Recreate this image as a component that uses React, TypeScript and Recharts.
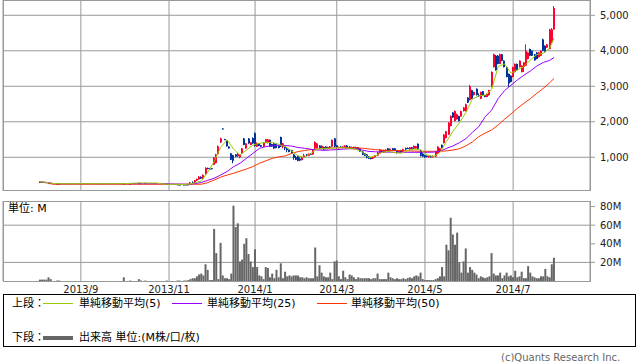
import React from 'react';
import { ComposedChart, Bar, Line, XAxis, YAxis, CartesianGrid } from 'recharts';

const _ = null;

// daily candles, Aug 2013 - Jul 2014 (null = no trade that day)
const open: (number | null)[] = [
  310, 300, 305, 300, 250, 280, _, _, 260, 255,
  _, _, _, _, _, _, _, _, _, _,
  _, _, _, _, _, _, _, _, _, _,
  _, _, _, _, _, _, _, _, _, 258,
  _, _, 255, _, _, _, 280, 276, _, 278,
  _, _, _, _, _, _, _, _, _, 250,
  _, _, _, _, 238, 234, _, 236, 235, 236,
  240, 290, 280, 350, 380, 450, 400, 520, 700, 680,
  690, 790, 840, 1090, 1420, 1810, 1510, 1480, 1300, 1110,
  1060, 1080, 1030, 1000, 1110, 1530, 1250, 1530, 1350, 1540,
  1680, 1300, 1390, 1340, 1300, 1420, 1400, 1490, 1370, 1390,
  1370, 1330, 1570, 1300, 1300, 1250, 1210, 1200, 1080, 1000,
  1040, 960, 920, 1010, 1080, 1040, 1100, 1080, 1250, 1260,
  1330, 1230, 1290, 1300, 1230, 1300, 1300, 1530, 1330, 1260,
  1300, 1260, 1270, 1330, 1300, 1250, 1290, 1240, 1280, 1250,
  1160, 1110, 1080, 1020, 990, 960, 1000, 1050, 1110, 1200,
  1140, 1210, 1250, 1170, 1250, 1250, 1200, 1130, 1200, 1160,
  1260, 1260, 1220, 1280, 1240, 1250, 1380, 1200, 1100, 1060,
  1040, 1000, 1030, 1000, 1020, 1110, 1150, 1350, 1400, 1540,
  1640, 1880, 2260, 2020, 2070, 2160, 2150, 2300, 2300, 2680,
  2610, 2890, 2750, 2930, 2750, 2650, 2860, 2750, 2700, 2750,
  2980, 3540, 3860, 3860, 3630, 3900, 3720, 3540, 3350, 3300,
  3260, 3400, 3630, 3540, 3400, 3540, 3580, 3770, 4050, 4000,
  3900, 3950, 3820, 3860, 4320, 4140, 4090, 4050, 4230, 4600,
];

const high: (number | null)[] = [
  315, 310, 310, 300, 296, 285, _, _, 262, 258,
  _, _, _, _, _, _, _, _, _, _,
  _, _, _, _, _, _, _, _, _, _,
  _, _, _, _, _, _, _, _, _, 260,
  _, _, 258, _, _, _, 282, 278, _, 280,
  _, _, _, _, _, _, _, _, _, 252,
  _, _, _, _, 240, 236, _, 238, 238, 240,
  300, 320, 360, 400, 470, 460, 520, 720, 710, 700,
  700, 1000, 1100, 1330, 1550, 1820, 1520, 1490, 1310, 1120,
  1070, 1090, 1120, 1090, 1260, 1540, 1400, 1540, 1430, 1560,
  1700, 1420, 1400, 1350, 1430, 1520, 1510, 1500, 1380, 1400,
  1380, 1340, 1580, 1400, 1310, 1260, 1220, 1210, 1090, 1040,
  1050, 1000, 1010, 1100, 1090, 1110, 1110, 1210, 1450, 1400,
  1340, 1340, 1300, 1310, 1300, 1310, 1500, 1540, 1350, 1300,
  1310, 1310, 1340, 1340, 1310, 1300, 1300, 1300, 1290, 1260,
  1170, 1120, 1090, 1030, 1000, 1010, 1060, 1150, 1230, 1210,
  1210, 1220, 1260, 1250, 1260, 1260, 1210, 1190, 1210, 1240,
  1270, 1280, 1290, 1290, 1330, 1320, 1390, 1210, 1110, 1070,
  1050, 1040, 1040, 1050, 1170, 1310, 1260, 1360, 1650, 1740,
  1990, 2180, 2270, 2320, 2230, 2170, 2310, 2420, 2510, 2690,
  3040, 2900, 2850, 2940, 2800, 2850, 2870, 2760, 2790, 2900,
  3420, 3920, 3880, 3880, 3920, 3910, 3730, 3560, 3360, 3310,
  3550, 3640, 3640, 3730, 3590, 3680, 4180, 3960, 4060, 4010,
  3910, 3960, 3960, 4010, 4340, 4150, 4190, 4620, 4640, 5260,
];

const low: (number | null)[] = [
  295, 300, 300, 290, 245, 270, _, _, 250, 250,
  _, _, _, _, _, _, _, _, _, _,
  _, _, _, _, _, _, _, _, _, _,
  _, _, _, _, _, _, _, _, _, 248,
  _, _, 250, _, _, _, 270, 270, _, 272,
  _, _, _, _, _, _, _, _, _, 246,
  _, _, _, _, 228, 228, _, 228, 230, 230,
  240, 270, 280, 330, 370, 390, 390, 510, 660, 640,
  670, 780, 830, 1080, 1400, 1790, 1490, 1300, 1240, 920,
  830, 1000, 1000, 970, 1100, 1340, 1240, 1380, 1340, 1380,
  1300, 1290, 1310, 1290, 1290, 1410, 1390, 1290, 1290, 1240,
  1250, 1250, 1290, 1250, 1200, 1140, 1140, 1100, 930, 920,
  890, 890, 910, 1000, 1030, 1030, 1070, 1070, 1240, 1250,
  1240, 1220, 1210, 1220, 1220, 1260, 1290, 1290, 1250, 1250,
  1260, 1250, 1260, 1250, 1250, 1240, 1240, 1230, 1220, 1150,
  1060, 1030, 970, 950, 940, 950, 990, 1040, 1100, 1130,
  1130, 1160, 1160, 1160, 1190, 1180, 1100, 1120, 1140, 1150,
  1210, 1230, 1210, 1230, 1230, 1240, 1230, 1020, 1010, 990,
  1000, 990, 990, 990, 1010, 1100, 1140, 1250, 1390, 1530,
  1630, 1870, 2110, 2010, 2060, 2010, 2140, 2290, 2290, 2530,
  2600, 2640, 2740, 2740, 2700, 2640, 2740, 2690, 2690, 2740,
  2970, 3530, 3440, 3620, 3620, 3710, 3530, 3250, 2980, 3110,
  3250, 3390, 3440, 3530, 3390, 3400, 3570, 3760, 3850, 3850,
  3720, 3760, 3810, 3850, 3990, 3950, 4080, 4040, 4220, 4590,
];

const close: (number | null)[] = [
  300, 305, 300, 295, 290, 275, _, _, 252, 252,
  _, _, _, _, _, _, _, _, _, _,
  _, _, _, _, _, _, _, _, _, _,
  _, _, _, _, _, _, _, _, _, 250,
  _, _, 252, _, _, _, 272, 272, _, 274,
  _, _, _, _, _, _, _, _, _, 248,
  _, _, _, _, 230, 230, _, 232, 232, 234,
  290, 280, 350, 390, 450, 400, 500, 700, 670, 650,
  680, 990, 1080, 1310, 1530, 1800, 1500, 1310, 1250, 930,
  900, 1020, 1090, 1080, 1250, 1350, 1390, 1390, 1420, 1390,
  1320, 1400, 1320, 1300, 1420, 1510, 1500, 1300, 1300, 1250,
  1260, 1260, 1300, 1390, 1250, 1200, 1150, 1110, 980, 930,
  900, 910, 1000, 1050, 1040, 1100, 1080, 1200, 1430, 1390,
  1250, 1320, 1220, 1230, 1290, 1270, 1490, 1300, 1260, 1290,
  1270, 1300, 1330, 1260, 1260, 1290, 1250, 1290, 1230, 1160,
  1070, 1040, 990, 960, 950, 1000, 1050, 1130, 1220, 1150,
  1200, 1170, 1170, 1240, 1200, 1190, 1130, 1180, 1150, 1230,
  1220, 1240, 1280, 1240, 1320, 1310, 1240, 1040, 1020, 1000,
  1010, 1030, 1000, 1040, 1160, 1300, 1250, 1260, 1640, 1730,
  1970, 2160, 2120, 2300, 2210, 2020, 2300, 2400, 2490, 2540,
  3000, 2650, 2840, 2750, 2720, 2840, 2750, 2700, 2780, 2890,
  3400, 3900, 3450, 3630, 3900, 3720, 3540, 3260, 3080, 3120,
  3540, 3630, 3450, 3720, 3580, 3670, 4000, 3950, 3860, 3860,
  3730, 3770, 3950, 4000, 4000, 3960, 4180, 4600, 4600, 5200,
];

// volume, millions of shares
const volume: number[] = [
  1.5, 1.5, 1.5, 1.5, 4, 2, 0, 0, 0.5, 0.5,
  0, 0, 0, 0, 0, 0, 0, 0, 0, 0,
  0, 0, 0, 0, 0, 0, 0, 0, 0, 0,
  0, 0, 0, 0, 0, 0, 0, 0, 0, 4,
  0, 0, 0.5, 0, 0, 0, 2, 0.5, 0, 0.5,
  0, 0, 0, 0, 0, 0, 0, 0, 0, 0.5,
  0, 0, 0, 0, 0.5, 0.5, 0, 0.5, 0.5, 1,
  2, 3, 3, 5, 7, 8, 6, 18, 12, 1,
  1, 56, 30, 2, 41, 6, 3, 3, 2, 8,
  81, 58, 62, 21, 23, 40, 46, 29, 21, 15,
  34, 15, 6, 5, 2, 15, 14, 4, 8, 3,
  12, 4, 19, 3, 10, 5, 6, 5, 6, 6,
  6, 4, 4, 3, 4, 3, 3, 3, 36, 5,
  17, 9, 5, 4, 4, 9, 2, 21, 22, 5,
  2, 11, 4, 2, 7, 6, 4, 2, 4, 3,
  3, 3, 3, 3, 2, 3, 3, 8, 2, 2,
  2, 2, 9, 4, 3, 2, 3, 2, 2, 3,
  2, 3, 4, 3, 5, 6, 5, 9, 2, 1,
  1, 1, 1, 1, 2, 3, 5, 15, 5, 39,
  33, 68, 50, 39, 52, 20, 9, 21, 35, 9,
  15, 12, 9, 7, 3, 5, 4, 3, 4, 5,
  30, 8, 6, 6, 9, 3, 6, 9, 5, 6,
  4, 11, 4, 5, 10, 3, 3, 16, 9, 5,
  4, 3, 3, 5, 5, 13, 5, 4, 18, 25,
];

// moving averages read every 3rd trading day (last value = last day)
const MA_STEP = 3;
const ma5 = [
  313, 290, 262, 256, 256, 256, 256, 256, 256, 256,
  256, 256, 256, 256, 265, 276, 276, 276, 276, 250,
  238, 238, 232, 240, 280, 330, 580, 880, 1280, 1490,
  1230, 1060, 1205, 1346, 1393, 1420, 1420, 1365, 1300, 1180,
  1040, 1000, 1110, 1235, 1250, 1250, 1270, 1270, 1250, 1225,
  1140, 990, 1045, 1140, 1162, 1133, 1114, 1190, 1228, 1209,
  1067, 1019, 1133, 1447, 1733, 1971, 2257, 2637, 2730, 2750,
  2900, 3555, 3630, 3370, 3463, 3555, 3740, 3890, 3930, 4075,
  4350,
];
const ma25 = [
  310, 292, 262, 256, 256, 256, 256, 256, 256, 256,
  256, 256, 256, 256, 256, 256, 256, 256, 256, 256,
  250, 245, 242, 242, 258, 290, 350, 410, 500, 600,
  735, 830, 970, 1110, 1250, 1300, 1330, 1340, 1330, 1315,
  1275, 1255, 1225, 1206, 1195, 1205, 1215, 1230, 1240, 1235,
  1200, 1165, 1155, 1148, 1145, 1140, 1140, 1140, 1140, 1140,
  1140, 1145, 1170, 1250, 1320, 1410, 1520, 1700, 1860, 2140,
  2330, 2650, 2880, 3030, 3180, 3310, 3430, 3570, 3670, 3730,
  3810,
];
const ma50 = [
  300, 285, 240, 240, 240, 240, 240, 240, 240, 240,
  240, 240, 240, 240, 240, 240, 240, 240, 240, 240,
  240, 240, 240, 240, 240, 240, 285, 360, 440, 500,
  550, 610, 670, 740, 830, 900, 970, 1010, 1040, 1110,
  1160, 1190, 1215, 1235, 1250, 1260, 1265, 1270, 1270, 1265,
  1255, 1235, 1215, 1200, 1195, 1190, 1185, 1180, 1175, 1170,
  1168, 1168, 1170, 1180, 1205, 1240, 1320, 1430, 1580, 1680,
  1770, 1910, 2070, 2220, 2380, 2520, 2650, 2800, 2940, 3100,
  3220,
];

const monthStarts = [19, 60, 100, 138, 179, 220];
const monthLabels = ['2013/9', '2013/11', '2014/1', '2014/3', '2014/5', '2014/7'];
const priceTicks = [1000, 2000, 3000, 4000, 5000];
const volumeTicks = [20, 40, 60, 80];

const RED = '#ff0033';
const BLUE = '#003399';
const GRID = '#999999';
const FONT = '"DejaVu Sans", "Noto Sans CJK JP", sans-serif';

const rows: any[] = close.map((c, i) => ({
  day: i, o: open[i], h: high[i], l: low[i], c, v: volume[i] || null,
}));
const lastDay = rows.length - 1;
ma5.forEach((v, k) => { rows[Math.min(k * MA_STEP, lastDay)].ma5 = v; });
ma25.forEach((v, k) => { rows[Math.min(k * MA_STEP, lastDay)].ma25 = v; });
ma50.forEach((v, k) => { rows[Math.min(k * MA_STEP, lastDay)].ma50 = v; });

const withCommas = (v: number) => String(v).replace(/\B(?=(\d{3})+(?!\d))/g, ',');

function Candle(props: any) {
  const { x, y, width, height, payload } = props;
  if (!payload || payload.o == null) return null;
  const { o, h, l, c } = payload;
  const top = height >= 0 ? y : y + height;
  const span = Math.abs(height);
  const k = h > l ? span / (h - l) : 0;
  const yo = top + (h - o) * k;
  const yc = top + (h - c) * k;
  const color = c >= o ? RED : BLUE;
  const left = Math.round(x + width / 2 - 1);
  const bodyTop = Math.min(yo, yc);
  const bodyH = Math.max(Math.abs(yo - yc), 1);
  return (
    <g>
      <line x1={left + 0.5} x2={left + 0.5} y1={top} y2={top + Math.max(span, 1)} stroke={color} strokeWidth={1} />
      <rect x={left} y={bodyTop} width={2} height={bodyH} fill={color} />
    </g>
  );
}

const xAxisProps = {
  type: 'number' as const,
  dataKey: 'day',
  domain: [0, lastDay],
  padding: { left: 37, right: 36 },
  ticks: monthStarts,
  interval: 0 as const,
};

const tickStyle = { fontSize: 10, fill: '#222', fontFamily: FONT };

function LegendLine({ left, top, color, h = 1 }: { left: number; top: number; color: string; h?: number }) {
  return <div style={{ position: 'absolute', left, top, width: 30, height: h, background: color }} />;
}

function Label({ left, top, children, size = 11, color = '#000' }: any) {
  return (
    <div style={{ position: 'absolute', left, top, fontSize: size, lineHeight: '14px', color, whiteSpace: 'nowrap' }}>
      {children}
    </div>
  );
}

export default function App() {
  return (
    <div style={{ position: 'absolute', left: 0, top: 0, width: 638, height: 362, background: '#fff', fontFamily: FONT, overflow: 'hidden' }}>
      <div style={{ position: 'absolute', left: 0, top: 0 }}>
        <ComposedChart width={638} height={191} data={rows} margin={{ top: 0, right: 0, bottom: 0, left: 3 }}>
          <CartesianGrid stroke={GRID} />
          <XAxis {...xAxisProps} hide />
          <YAxis
            orientation="right"
            width={48}
            domain={[50, 5430]}
            ticks={priceTicks}
            tickFormatter={withCommas}
            axisLine={false}
            tickLine={{ stroke: GRID }}
            tickSize={5}
            tickMargin={5}
            tick={tickStyle}
          />
          <Bar dataKey={(d: any) => (d.o == null ? null : [d.l, d.h])} barSize={2} shape={<Candle />} isAnimationActive={false} />
          <Line dataKey="ma50" stroke="#ff3300" strokeWidth={1} dot={false} connectNulls isAnimationActive={false} />
          <Line dataKey="ma25" stroke="#9900ff" strokeWidth={1} dot={false} connectNulls isAnimationActive={false} />
          <Line dataKey="ma5" stroke="#99cc00" strokeWidth={1} dot={false} connectNulls isAnimationActive={false} />
        </ComposedChart>
      </div>
      <div style={{ position: 'absolute', left: 3, top: 0, width: 588, height: 191, border: `1px solid ${GRID}`, boxSizing: 'border-box' }} />

      <div style={{ position: 'absolute', left: 0, top: 201 }}>
        <ComposedChart width={638} height={100} data={rows} margin={{ top: 0, right: 0, bottom: 0, left: 3 }}>
          <CartesianGrid stroke={GRID} horizontalValues={[20, 40, 60]} />
          <XAxis
            {...xAxisProps}
            height={20}
            axisLine={false}
            tickLine={false}
            tickSize={0}
            tickMargin={5}
            tick={tickStyle}
            tickFormatter={(v: number) => monthLabels[monthStarts.indexOf(v)]}
          />
          <YAxis
            orientation="right"
            width={48}
            domain={[0, 86]}
            ticks={volumeTicks}
            tickFormatter={(v: number) => `${v}M`}
            axisLine={false}
            tickLine={{ stroke: GRID }}
            tickSize={5}
            tickMargin={5}
            tick={tickStyle}
          />
          <Bar dataKey="v" fill="#666666" barSize={2} isAnimationActive={false} />
        </ComposedChart>
      </div>
      <div style={{ position: 'absolute', left: 3, top: 201, width: 588, height: 81, border: `1px solid ${GRID}`, boxSizing: 'border-box' }} />
      <Label left={8} top={202}>単位: M</Label>

      <div style={{ position: 'absolute', left: 3, top: 294, width: 633, height: 53, border: '1px solid #000', boxSizing: 'border-box' }} />
      <Label left={12} top={297}>上段：</Label>
      <LegendLine left={43} top={303} color="#99cc00" />
      <Label left={79} top={297}>単純移動平均(5)</Label>
      <LegendLine left={172} top={303} color="#9900ff" />
      <Label left={207} top={297}>単純移動平均(25)</Label>
      <LegendLine left={317} top={303} color="#ff3300" />
      <Label left={351} top={297}>単純移動平均(50)</Label>
      <Label left={12} top={331}>下段：</Label>
      <LegendLine left={43} top={336} color="#666666" h={4} />
      <Label left={79} top={331}>出来高 単位:(M株/口/枚)</Label>

      <Label left={501} top={351} size={10} color="#666">(c)Quants Research Inc.</Label>
    </div>
  );
}
